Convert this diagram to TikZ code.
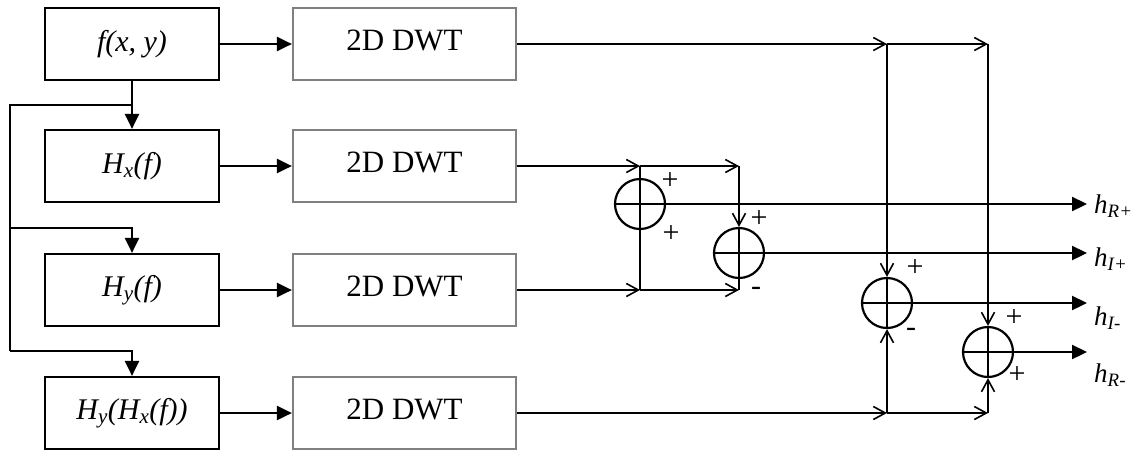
\documentclass[tikz,border=0pt]{standalone}
\usepackage{fontspec}
\setmainfont{Liberation Serif}
\usetikzlibrary{arrows.meta}
\begin{document}
\begin{tikzpicture}[x=1pt,y=-1pt,
  blk/.style={draw=black,line width=2.2pt,minimum width=174pt,minimum height=72pt,inner sep=0pt,font=\fontsize{30}{32}\selectfont\itshape},
  dwt/.style={draw=black!50,line width=2.2pt,minimum width=223pt,minimum height=72pt,inner sep=0pt,font=\fontsize{31}{32}\selectfont},
  sum/.style={draw,circle,line width=2.2pt,minimum size=50pt,inner sep=0pt,
    path picture={\draw[line width=2.2pt] (path picture bounding box.west) -- (path picture bounding box.east)
      (path picture bounding box.north) -- (path picture bounding box.south);}},
  wire/.style={line width=2.2pt},
  thin wire/.style={line width=1.5pt},
  fa/.style={-{Triangle[length=15pt,width=14pt]}},
  oa/.style={-{Straight Barb[length=12pt,width=13pt,line width=1.6pt]}},
  sgn/.style={font=\fontsize{30}{30}\selectfont,inner sep=0pt},
  outlbl/.style={anchor=west,inner sep=0pt,font=\fontsize{27}{28}\selectfont\itshape},
]
\useasboundingbox (0,0) rectangle (1131,451);
% left blocks
\node[blk] (f)   at (132,44)  {f(x, y)};
\node[blk] (hx)  at (132,166) {H\textsubscript{x}(f)};
\node[blk] (hy)  at (132,290) {H\textsubscript{y}(f)};
\node[blk] (hyx) at (132,413) {H\textsubscript{y}(H\textsubscript{x}(f))};
% DWT blocks
\node[dwt] (d1) at (404.5,44)  {\raisebox{8pt}{2D DWT}};
\node[dwt] (d2) at (404.5,166) {\raisebox{8pt}{2D DWT}};
\node[dwt] (d3) at (404.5,290) {\raisebox{8pt}{2D DWT}};
\node[dwt] (d4) at (404.5,413) {\raisebox{8pt}{2D DWT}};
% summing junctions
\node[sum] (s1) at (640,204) {};
\node[sum] (s2) at (739,253) {};
\node[sum] (s3) at (887,303) {};
\node[sum] (s4) at (988,352) {};
% coordinates
\coordinate (b0) at (132,105);
\coordinate (b1) at (10,105);
\coordinate (b2) at (10,228);
\coordinate (b3) at (132,228);
\coordinate (b4) at (10,351);
\coordinate (b5) at (132,351);
\coordinate (j1) at (887,44);
\coordinate (j2) at (988,44);
\coordinate (k1) at (640,166);
\coordinate (k2) at (739,166);
\coordinate (m1) at (640,290);
\coordinate (m2) at (739,290);
\coordinate (n1) at (887,413);
\coordinate (n2) at (988,413);
\coordinate (o1) at (1087,204);
\coordinate (o2) at (1087,253);
\coordinate (o3) at (1087,303);
\coordinate (o4) at (1087,352);
% left connectors
\draw[wire,fa] (f.east) -- (d1.west);
\draw[wire,fa] (hx.east) -- (d2.west);
\draw[wire,fa] (hy.east) -- (d3.west);
\draw[wire,fa] (hyx.east) -- (d4.west);
\draw[wire,fa] (f.south) -- (hx.north);
\draw[wire] (b0) -- (b1) -- (b4);
\draw[wire,fa] (b2) -- (b3) -- (hy.north);
\draw[wire,fa] (b4) -- (b5) -- (hyx.north);
% right connectors
\draw[wire,oa] (d1.east) -- (j1);
\draw[wire,oa] (j1) -- (j2);
\draw[wire,oa] (j1) -- (s3.north);
\draw[wire,oa] (j2) -- (s4.north);
\draw[wire,oa] (d2.east) -- (k1);
\draw[wire,oa] (k1) -- (k2);
\draw[wire] (k1) -- (m1);
\draw[wire,oa] (k2) -- (s2.north);
\draw[thin wire,oa] (d3.east) -- (m1);
\draw[thin wire,oa] (m1) -- (m2);
\draw[wire] (m2) -- (s2.south);
\draw[thin wire,oa] (d4.east) -- (n1);
\draw[thin wire,oa] (n1) -- (n2);
\draw[wire,oa] (n1) -- (s3.south);
\draw[wire,oa] (n2) -- (s4.south);
% outputs
\draw[wire,fa] (s1.east) -- (o1);
\draw[wire,fa] (s2.east) -- (o2);
\draw[wire,fa] (s3.east) -- (o3);
\draw[wire,fa] (s4.east) -- (o4);
\node[outlbl] (l1) at (1094,206) {h\textsubscript{R+}};
\node[outlbl] (l2) at (1094,259) {h\textsubscript{I+}};
\node[outlbl] (l3) at (1094,318) {h\textsubscript{I-}};
\node[outlbl] (l4) at (1094,375) {h\textsubscript{R-}};
% signs
\node[sgn] (p1a) at (670,181) {+};
\node[sgn] (p1b) at (671,234) {+};
\node[sgn] (p2a) at (759,219) {+};
\node[sgn] (p2b) at (756,291) {-};
\node[sgn] (p3a) at (915,268) {+};
\node[sgn] (p3b) at (911,332) {-};
\node[sgn] (p4a) at (1014,318) {+};
\node[sgn] (p4b) at (1017,375) {+};
\end{tikzpicture}
\end{document}
